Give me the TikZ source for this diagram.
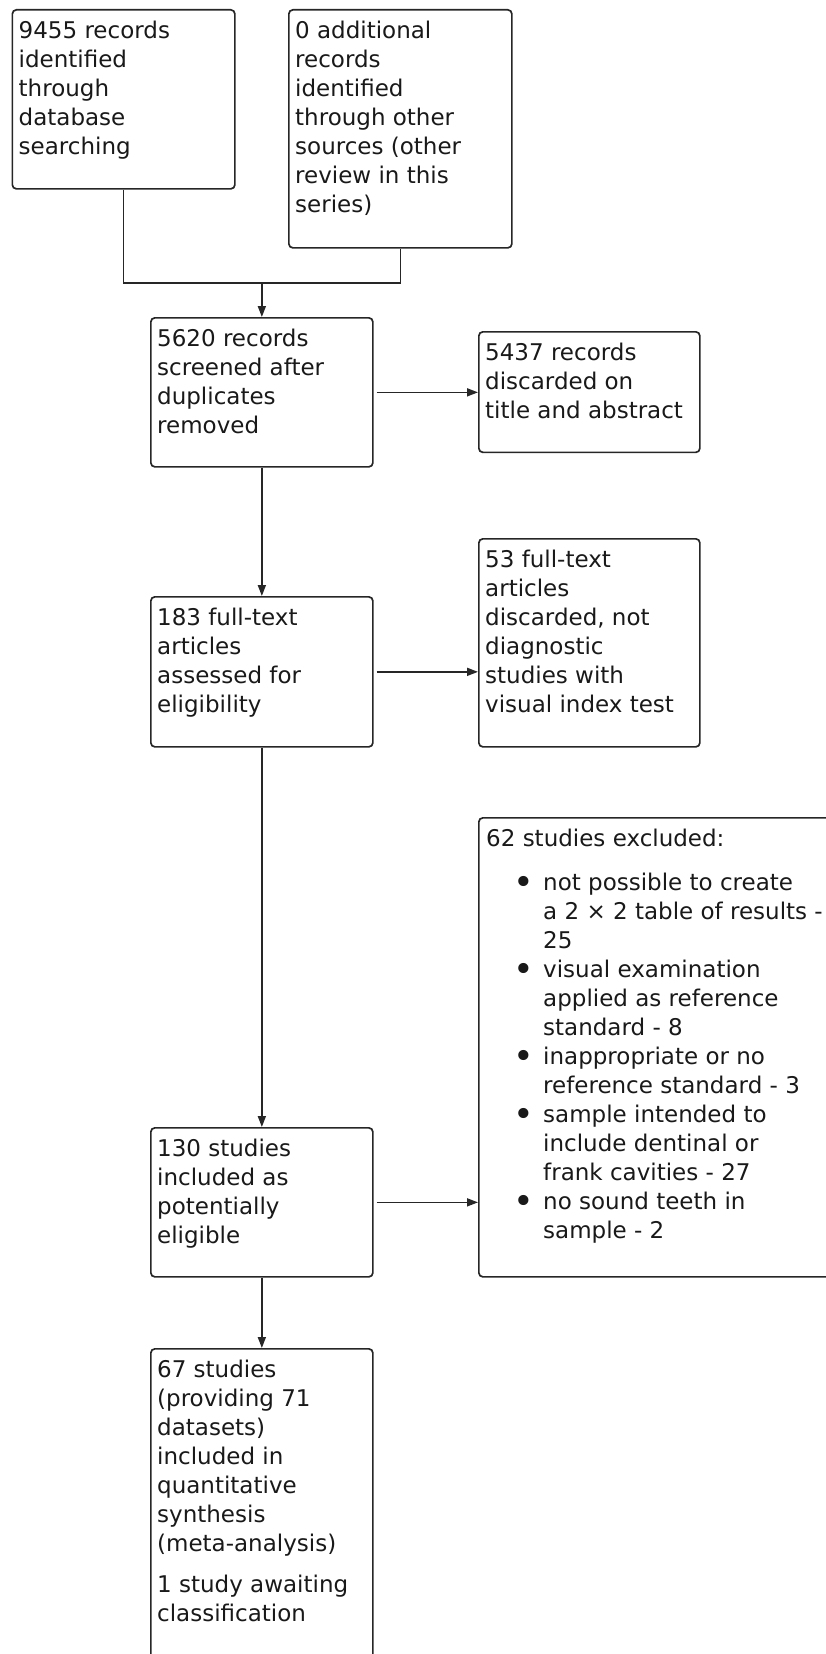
\documentclass[tikz,border=0pt]{standalone}
\usepackage{fontspec}
\setmainfont{DejaVu Sans}
\usetikzlibrary{arrows.meta}
\tikzset{
  box/.style={draw=black!85, line width=1.7pt, rounded corners=4pt, inner sep=0pt, anchor=north west},
  txt/.style={anchor=north west, inner sep=0pt, align=left, font=\fontsize{23}{29}\selectfont, text=black!90},
  link/.style={draw=black!85, line width=1.7pt},
  arr/.style={link, -{Triangle[length=11pt,width=8pt]}},
}
\newcommand{\blt}{\llap{\raisebox{-3.5pt}{\fontsize{35}{29}\selectfont\textbullet}\hspace{9pt}}}
\begin{document}
\begin{tikzpicture}[x=1pt,y=-1pt]
\useasboundingbox (0,0) rectangle (826,1654);
\clip (0,0) rectangle (826,1654);
% boxes
\node[box, minimum width=222.5pt, minimum height=179pt] (a) at (11.5,9) {};
\node[box, minimum width=223pt, minimum height=238pt] (b) at (288,9) {};
\node[box, minimum width=222pt, minimum height=149pt] (c) at (150,317) {};
\node[box, minimum width=221pt, minimum height=120.5pt] (d) at (478,331) {};
\node[box, minimum width=222pt, minimum height=150pt] (e) at (150,596) {};
\node[box, minimum width=221pt, minimum height=208pt] (f) at (478,538) {};
\node[box, minimum width=222pt, minimum height=149pt] (g) at (150,1127) {};
\node[box, minimum width=380pt, minimum height=459pt] (h) at (478,817) {};
\node[box, minimum width=222pt, minimum height=360pt] (i) at (150,1348) {};
% texts
\node[txt] (at) at ([shift={(7,9.2)}]a.north west) {\strut 9455 records\\identified\\through\\database\\searching};
\node[txt] (bt) at ([shift={(7,9.2)}]b.north west) {\strut 0 additional\\records\\identified\\through other\\sources (other\\review in this\\series)};
\node[txt] (ct) at ([shift={(7,9.2)}]c.north west) {\strut 5620 records\\screened after\\duplicates\\removed};
\node[txt] (dt) at ([shift={(7,9.2)}]d.north west) {\strut 5437 records\\discarded on\\title and abstract};
\node[txt] (et) at ([shift={(7,9.2)}]e.north west) {\strut 183 full-text\\articles\\assessed for\\eligibility};
\node[txt] (ft) at ([shift={(7,9.2)}]f.north west) {\strut 53 full-text\\articles\\discarded, not\\diagnostic\\studies with\\visual index test};
\node[txt] (gt) at ([shift={(7,9.2)}]g.north west) {\strut 130 studies\\included as\\potentially\\eligible};
\node[txt] (ht) at ([shift={(8,9.2)}]h.north west) {\strut 62 studies excluded:};
\node[txt] (hl) at ([shift={(65,9.2+44)}]h.north west) {\strut\blt not possible to create\\a 2 × 2 table of results -\\25\\\blt visual examination\\applied as reference\\standard - 8\\\blt inappropriate or no\\reference standard - 3\\\blt sample intended to\\include dentinal or\\frank cavities - 27\\\blt no sound teeth in\\sample - 2};
\node[txt] (it) at ([shift={(7,9.2)}]i.north west) {\strut 67 studies\\(providing 71\\datasets)\\included in\\quantitative\\synthesis\\(meta-analysis)\\[12pt]1 study awaiting\\classification};
% connectors
\coordinate (m) at (c.north |- 0,283);
\draw[link] (a.south) |- (m);
\draw[link] (b.south) |- (m);
\draw[arr] (m) -- (c.north);
\draw[arr] ([xshift=3pt]c.east) -- (c.east -| d.west);
\draw[arr] (c.south) -- (e.north);
\draw[arr] ([xshift=3pt]e.east) -- (e.east -| f.west);
\draw[arr] (e.south) -- (g.north);
\draw[arr] ([xshift=3pt]g.east) -- (g.east -| h.west);
\draw[arr] (g.south) -- (i.north);
\end{tikzpicture}
\end{document}
